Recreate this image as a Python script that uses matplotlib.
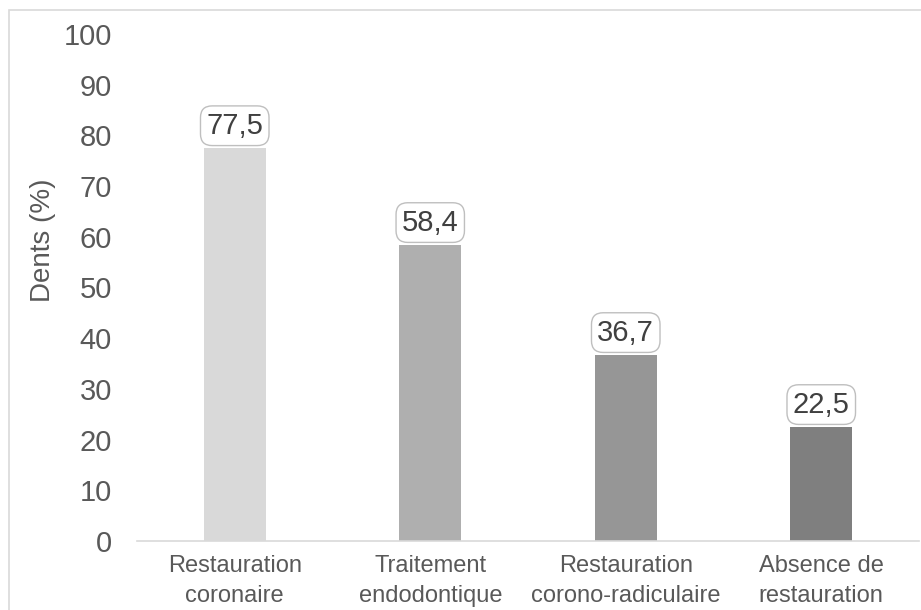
import matplotlib.pyplot as plt
from matplotlib.patches import Rectangle

plt.rcParams['font.family'] = ['Liberation Sans', 'DejaVu Sans']

categories = ['Restauration\ncoronaire', 'Traitement\nendodontique',
              'Restauration\ncorono-radiculaire', 'Absence de\nrestauration']
values = [77.5, 58.4, 36.7, 22.5]
labels = ['77,5', '58,4', '36,7', '22,5']
colors = ['#D9D9D9', '#AFAFAF', '#969696', '#7F7F7F']

fig = plt.figure(figsize=(9.21, 6.10), dpi=100)
ax = fig.add_axes([137 / 921, 69 / 610, 782 / 921, 507 / 610])

x = range(len(values))
ax.bar(x, values, width=0.315, color=colors)

for xi, v, lab in zip(x, values, labels):
    ax.annotate(lab, (xi, v), xytext=(0, 6), textcoords='offset points',
                ha='center', va='bottom', fontsize=21, color='#404040',
                bbox=dict(boxstyle='round,pad=0.2,rounding_size=0.4',
                          fc='white', ec='#BFBFBF', lw=1))

ax.set_xlim(-0.5, 3.5)
ax.set_ylim(0, 100)
ax.set_yticks(range(0, 101, 10))
ax.set_xticks(list(x))
ax.set_xticklabels(categories, fontsize=17, color='#595959', linespacing=1.45)
ax.tick_params(axis='y', labelsize=21, labelcolor='#595959', length=0, pad=18)
ax.tick_params(axis='x', length=0, pad=10)
ax.set_ylabel('Dents (%)', fontsize=20, color='#595959')
ax.yaxis.set_label_coords(-0.104, 0.594)

for s in ['top', 'right', 'left']:
    ax.spines[s].set_visible(False)
ax.spines['bottom'].set_color('#D9D9D9')
ax.spines['bottom'].set_linewidth(1.2)

# outer chart border (cropped at right and bottom)
fig.add_artist(Rectangle((9 / 921, -0.1), 1.2, 1.1 - 10 / 610,
                         transform=fig.transFigure, fill=False,
                         ec='#D9D9D9', lw=1.2))

fig.savefig('out.png', dpi=100)
